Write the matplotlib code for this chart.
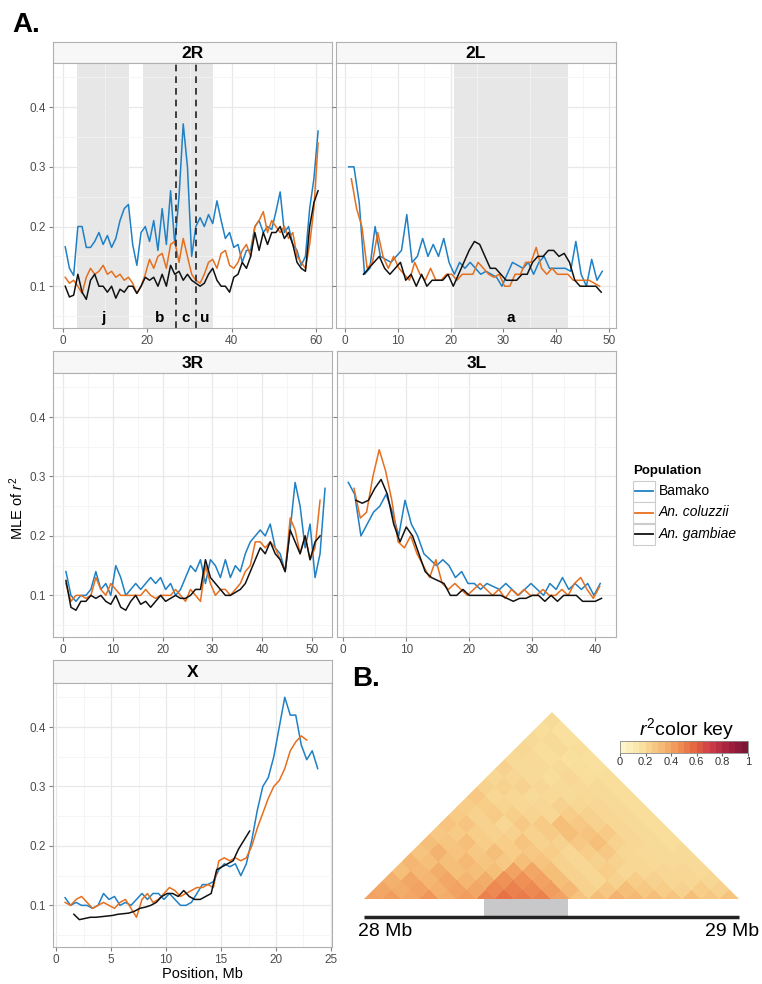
import numpy as np
import matplotlib.pyplot as plt
from matplotlib.colors import LinearSegmentedColormap
from matplotlib.patches import Rectangle, Polygon
from matplotlib.lines import Line2D
import matplotlib as mpl

plt.rcParams['font.family'] = ['Liberation Sans', 'DejaVu Sans']
plt.rcParams['mathtext.fontset'] = 'custom'
plt.rcParams['mathtext.rm'] = 'Liberation Sans'
plt.rcParams['mathtext.it'] = 'Liberation Sans:italic'

#----------------------------------------------------------------------
# data : MLE of r2 along each arm (Mb grid, start + step*i)

pops = ['Bamako', 'An. coluzzii', 'An. gambiae']
pop_colors = ['#1f80c4', '#e66f1e', '#111111']

bam_2R = [.166,.13,.118,.2,.2,.165,.165,.175,.19,.17,
          .185,.165,.18,.21,.23,.237,.17,.135,.19,.2,
          .175,.21,.16,.23,.17,.26,.17,.25,.372,.3,
          .15,.2,.215,.2,.22,.205,.243,.21,.18,.19,
          .165,.17,.14,.16,.16,.2,.21,.19,.2,.195,
          .225,.258,.19,.2,.17,.16,.135,.15,.23,.28,
          .36]
col_2R = [.115,.105,.11,.1,.088,.115,.13,.12,.125,.135,
          .12,.125,.115,.12,.11,.115,.105,.088,.1,.12,
          .145,.13,.15,.155,.13,.17,.175,.14,.18,.15,
          .12,.11,.105,.12,.14,.145,.13,.155,.16,.135,
          .13,.14,.16,.17,.15,.2,.21,.225,.19,.21,
          .2,.19,.2,.18,.19,.15,.14,.13,.17,.23,
          .34]
gam_2R = [.1,.082,.085,.12,.09,.078,.11,.12,.1,.1,
          .09,.1,.08,.095,.09,.1,.1,.088,.1,.115,
          .11,.115,.1,.12,.1,.135,.12,.125,.11,.12,
          .11,.105,.1,.105,.12,.13,.11,.1,.1,.09,
          .115,.12,.14,.13,.15,.19,.16,.19,.17,.19,
          .19,.2,.18,.19,.17,.14,.13,.125,.2,.24,
          .26]
start_2R = [0.5, 0.5, 0.5]

bam_2L = [.3,.3,.24,.12,.13,.2,.15,.145,.14,.15,
          .16,.22,.14,.15,.18,.15,.17,.15,.18,.14,
          .12,.14,.13,.14,.13,.12,.125,.12,.115,.1,
          .12,.14,.135,.13,.14,.12,.14,.15,.13,.13,
          .13,.13,.125,.175,.12,.1,.145,.11,.125]
col_2L = [.28,.23,.2,.13,.14,.19,.15,.13,.15,.13,
          .12,.11,.14,.12,.11,.13,.11,.11,.12,.12,
          .11,.12,.12,.12,.14,.13,.12,.115,.12,.1,
          .1,.12,.12,.14,.14,.165,.13,.12,.13,.12,
          .12,.12,.11,.11,.11,.11,.105,.1]
gam_2L = [.12,.13,.14,.15,.13,.12,.13,.14,.11,.12,
          .1,.12,.1,.11,.11,.11,.12,.1,.12,.14,
          .16,.175,.17,.15,.13,.13,.12,.11,.11,.11,
          .12,.12,.14,.15,.15,.16,.16,.15,.155,.14,
          .11,.1,.1,.1,.1,.09]
start_2L = [0.7, 1.2, 3.5]

bam_3R = [.14,.1,.09,.1,.1,.11,.14,.11,.12,.1,
          .15,.13,.1,.11,.12,.11,.12,.13,.12,.13,
          .11,.12,.1,.11,.13,.15,.14,.16,.12,.16,
          .15,.13,.16,.13,.15,.14,.17,.19,.2,.21,
          .2,.22,.18,.17,.14,.21,.29,.25,.18,.22,
          .13,.17,.28]
col_3R = [.12,.09,.1,.1,.095,.1,.13,.11,.1,.12,
          .11,.1,.1,.1,.1,.1,.11,.1,.095,.1,
          .1,.1,.11,.1,.09,.11,.1,.09,.15,.12,
          .1,.11,.11,.1,.11,.12,.14,.15,.19,.19,
          .18,.19,.18,.16,.14,.23,.21,.17,.2,.16,
          .18,.26]
gam_3R = [.125,.08,.075,.09,.09,.1,.095,.1,.09,.085,
          .1,.08,.075,.09,.1,.085,.09,.08,.09,.1,
          .09,.095,.1,.095,.095,.1,.11,.11,.16,.13,
          .12,.11,.1,.1,.105,.11,.12,.14,.16,.18,
          .17,.19,.17,.16,.14,.21,.19,.17,.2,.16,
          .19,.2]
start_3R = [0.6, 0.6, 0.6]

bam_3L = [.29,.27,.2,.22,.24,.25,.27,.24,.2,.26,
          .22,.2,.17,.16,.15,.16,.15,.13,.14,.12,
          .12,.11,.12,.115,.11,.12,.11,.1,.11,.12,
          .11,.1,.12,.11,.13,.11,.12,.11,.12,.1,
          .12]
col_3L = [.28,.23,.24,.3,.345,.31,.26,.19,.18,.2,
          .17,.15,.13,.16,.12,.11,.12,.11,.1,.11,
          .12,.11,.1,.11,.095,.11,.1,.11,.1,.1,
          .11,.1,.1,.11,.1,.12,.13,.11,.095,.115]
gam_3L = [.26,.255,.26,.28,.295,.27,.22,.19,.215,.2,
          .17,.14,.13,.125,.12,.1,.1,.11,.1,.1,
          .1,.1,.1,.1,.095,.09,.095,.095,.1,.1,
          .09,.1,.09,.1,.1,.1,.09,.09,.09,.095]
start_3L = [0.8, 1.7, 2.0]

bam_X = [.113,.1,.105,.1,.1,.095,.1,.12,.11,.115,
         .1,.105,.1,.11,.12,.11,.12,.12,.11,.12,
         .11,.1,.1,.105,.12,.135,.135,.14,.16,.17,
         .165,.17,.15,.17,.21,.26,.3,.315,.35,.4,
         .45,.42,.42,.37,.345,.36,.33]
col_X = [.105,.1,.11,.115,.105,.095,.1,.105,.1,.095,
         .105,.11,.095,.08,.11,.12,.105,.11,.12,.13,
         .125,.115,.12,.125,.13,.13,.135,.13,.175,.18,
         .175,.18,.175,.18,.2,.23,.255,.28,.3,.31,
         .33,.36,.375,.385,.378]
gam_X = [.085,.076,.078,.08,.08,.081,.082,.083,.085,.086,
         .087,.09,.095,.097,.1,.105,.115,.12,.12,.115,
         .125,.115,.11,.11,.115,.12,.16,.165,.17,.175,
         .195,.21,.225]
start_X = [0.8, 0.8, 1.6]

# inversions (Mb)
inv_2R = [(3.3, 15.6), (19.0, 35.5)]
inv_2R_breaks = [26.8, 31.5]
inv_2R_labels = [('j', 9.5), ('b', 23.0), ('c', 29.1), ('u', 33.5)]
inv_2L = [(20.6, 42.2)]
inv_2L_labels = [('a', 31.4)]

# LD heatmap 28-29 Mb, upper triangle rows (20 bins), row i holds j = i..19
ld_rows = [
    [.4,.38,.35,.3,.33,.28,.3,.26,.28,.25,.24,.26,.22,.2,.22,.19,.2,.18,.17,.18],
    [.42,.36,.38,.32,.3,.34,.27,.25,.28,.22,.24,.2,.22,.2,.18,.19,.17,.18,.16],
    [.38,.4,.33,.36,.3,.28,.3,.24,.22,.25,.21,.2,.22,.18,.19,.17,.18,.16],
    [.44,.35,.38,.3,.32,.26,.24,.22,.2,.23,.2,.18,.2,.17,.18,.16,.17],
    [.36,.4,.33,.3,.27,.3,.24,.22,.26,.21,.2,.19,.18,.2,.17,.16],
    [.42,.38,.36,.3,.26,.24,.28,.22,.25,.2,.22,.18,.19,.17,.16],
    [.5,.48,.45,.4,.3,.26,.22,.25,.3,.24,.2,.19,.18,.17],
    [.55,.5,.46,.38,.28,.24,.22,.3,.26,.22,.2,.18,.17],
    [.52,.48,.4,.3,.22,.2,.26,.28,.22,.2,.18,.17],
    [.5,.42,.3,.22,.2,.24,.3,.25,.2,.19,.17],
    [.4,.32,.22,.2,.22,.26,.22,.2,.18,.17],
    [.28,.22,.2,.24,.22,.2,.2,.18,.17],
    [.3,.26,.22,.2,.2,.19,.18,.17],
    [.34,.3,.24,.2,.19,.18,.17],
    [.32,.26,.22,.2,.18,.18],
    [.3,.24,.2,.2,.18],
    [.28,.22,.2,.19],
    [.3,.24,.2],
    [.26,.22],
    [.28],
]
ld_start, ld_end = 28.0, 29.0
focus_region = (28.32, 28.544)

#----------------------------------------------------------------------

W, H = 762, 984
fig = plt.figure(figsize=(W/100, H/100), dpi=100)

def box(l, t, r, b):
    return fig.add_axes([l/W, 1-b/H, (r-l)/W, (b-t)/H])

def fxy(x, y):
    return x/W, 1-y/H

def draw_panel(name, l, ts, r, tp, b, xlim, xticks, ylab, series, starts, step):
    s = box(l, ts, r, tp)
    s.set_facecolor('#f7f7f7')
    s.set_xticks([]); s.set_yticks([])
    for sp in s.spines.values():
        sp.set_color('#b0b0b0')
    s.text(0.5, 0.45, name, transform=s.transAxes, ha='center', va='center',
           fontsize=12.5, fontweight='bold')

    ax = box(l, tp, r, b)
    ax.set_xlim(*xlim)
    ax.set_ylim(0.03, 0.474)
    ax.set_xticks(xticks)
    ax.set_xticks([(a+c)/2 for a, c in zip(xticks[:-1], xticks[1:])], minor=True)
    ax.set_yticks([0.1, 0.2, 0.3, 0.4])
    ax.set_yticks([0.05, 0.15, 0.25, 0.35, 0.45], minor=True)
    ax.grid(which='major', color='#e8e8e8', lw=0.9)
    ax.grid(which='minor', color='#f4f4f4', lw=0.6)
    ax.set_axisbelow(True)
    for sp in ax.spines.values():
        sp.set_color('#b0b0b0')
    ax.tick_params(which='major', length=3, color='#808080', labelsize=8.5,
                   labelcolor='#4d4d4d', pad=2)
    ax.tick_params(which='minor', length=0)
    ax.set_xticklabels([str(v) for v in xticks])
    if ylab:
        ax.set_yticklabels(['0.1', '0.2', '0.3', '0.4'])
    else:
        ax.tick_params(axis='y', labelleft=False)
    for vals, st, c in zip(series, starts, pop_colors):
        x = st + step*np.arange(len(vals))
        ax.plot(x, vals, color=c, lw=1.1)
    return ax

ax2R = draw_panel('2R', 53, 42, 332, 63, 328, (-2.4, 63.8), [0, 20, 40, 60], True,
                  [bam_2R, col_2R, gam_2R], start_2R, 1.0)
for a, c in inv_2R:
    ax2R.axvspan(a, c, color='#d0d0d0', alpha=0.5, lw=0, zorder=0.5)
for v in inv_2R_breaks:
    ax2R.axvline(v, color='#222222', lw=1.2, ls=(0, (4, 3)))
for t, v in inv_2R_labels:
    ax2R.text(v, 0.047, t, ha='center', va='center', fontsize=11, fontweight='bold')

ax2L = draw_panel('2L', 336, 42, 616, 63, 328, (-1.7, 51.3), [0, 10, 20, 30, 40, 50], False,
                  [bam_2L, col_2L, gam_2L], start_2L, 1.0)
for a, c in inv_2L:
    ax2L.axvspan(a, c, color='#d0d0d0', alpha=0.5, lw=0, zorder=0.5)
for t, v in inv_2L_labels:
    ax2L.text(v, 0.047, t, ha='center', va='center', fontsize=11, fontweight='bold')

draw_panel('3R', 53, 351, 332, 373, 637, (-2.0, 54.0), [0, 10, 20, 30, 40, 50], True,
           [bam_3R, col_3R, gam_3R], start_3R, 1.0)
draw_panel('3L', 337, 351, 616, 373, 637, (-1.0, 43.3), [0, 10, 20, 30, 40], False,
           [bam_3L, col_3L, gam_3L], start_3L, 1.0)
draw_panel('X', 53, 660, 332, 683, 947, (-0.3, 25.1), [0, 5, 10, 15, 20, 25], True,
           [bam_X, col_X, gam_X], start_X, 0.5)

fig.text(*fxy(17, 508), 'MLE of $r^2$', rotation=90, ha='center', va='center', fontsize=10.5)
fig.text(*fxy(202, 974), 'Position, Mb', ha='center', va='center', fontsize=10.5)
fig.text(*fxy(12, 25), 'A.', ha='left', va='center', fontsize=20, fontweight='bold')
fig.text(*fxy(352, 679), 'B.', ha='left', va='center', fontsize=20, fontweight='bold')

# legend
fig.text(*fxy(633, 471), 'Population', ha='left', va='center', fontsize=9.5, fontweight='bold')
for i, (p, c) in enumerate(zip(pops, pop_colors)):
    yc = 491 + 21.5*i
    x0, y0 = fxy(633, yc + 10.5)
    fig.add_artist(Rectangle((x0, y0), 22/W, 21/H, transform=fig.transFigure,
                             facecolor='white', edgecolor='#cccccc', lw=0.8))
    xa, ya = fxy(635, yc)
    xb, _ = fxy(653, yc)
    fig.add_artist(Line2D([xa, xb], [ya, ya], transform=fig.transFigure, color=c, lw=1.3))
    fig.text(*fxy(659, yc), p, ha='left', va='center', fontsize=10,
             style='normal' if i == 0 else 'italic')

#----------------------------------------------------------------------
# B : LD triangle

cmap = LinearSegmentedColormap.from_list('ld', ['#fdf6cb', '#f9e3a2', '#f6c27c', '#f19a5c',
                                                '#e66a41', '#cf3c46', '#a5223f', '#7e1635'])
axB = box(355, 700, 760, 950)
axB.set_xlim(27.976, 29.056)
axB.set_ylim(-0.136, 0.5307)
axB.axis('off')

n = len(ld_rows)
edges = np.linspace(ld_start, ld_end, n + 1)
E1, E2 = np.meshgrid(edges, edges, indexing='ij')
X = (E1 + E2)/2
Y = (E2 - E1)/2
C = np.ma.masked_all((n, n))
for i, row in enumerate(ld_rows):
    for k, v in enumerate(row):
        C[i, i + k] = v
mesh = axB.pcolormesh(X, Y, C, cmap=cmap, vmin=0, vmax=1, shading='flat')
tri = Polygon([(ld_start, 0), (ld_end, 0), ((ld_start+ld_end)/2, (ld_end-ld_start)/2)],
              closed=True, facecolor='none', edgecolor='none')
axB.add_patch(tri)
mesh.set_clip_path(tri)

axB.add_patch(Rectangle((focus_region[0], -0.048), focus_region[1]-focus_region[0], 0.048,
                        facecolor='#c8c8ca', edgecolor='none'))
axB.plot([ld_start, ld_end], [-0.048, -0.048], color='#222222', lw=2.5, solid_capstyle='butt')
axB.text(27.985, -0.086, '28 Mb', ha='left', va='center', fontsize=14)
axB.text(29.054, -0.086, '29 Mb', ha='right', va='center', fontsize=14)

cax = box(620, 741, 748, 753)
sm = mpl.cm.ScalarMappable(cmap=cmap.resampled(20), norm=mpl.colors.Normalize(0, 1))
cb = fig.colorbar(sm, cax=cax, orientation='horizontal')
cb.set_ticks([0, 0.2, 0.4, 0.6, 0.8, 1])
cb.set_ticklabels(['0', '0.2', '0.4', '0.6', '0.8', '1'])
cb.outline.set_edgecolor('#888888')
cb.outline.set_linewidth(0.6)
cax.tick_params(length=2, labelsize=8, labelcolor='#333333', color='#666666', pad=1)
fig.text(*fxy(687, 729), '$r^2$color key', ha='center', va='center', fontsize=14)

fig.savefig('out.png', dpi=100)
